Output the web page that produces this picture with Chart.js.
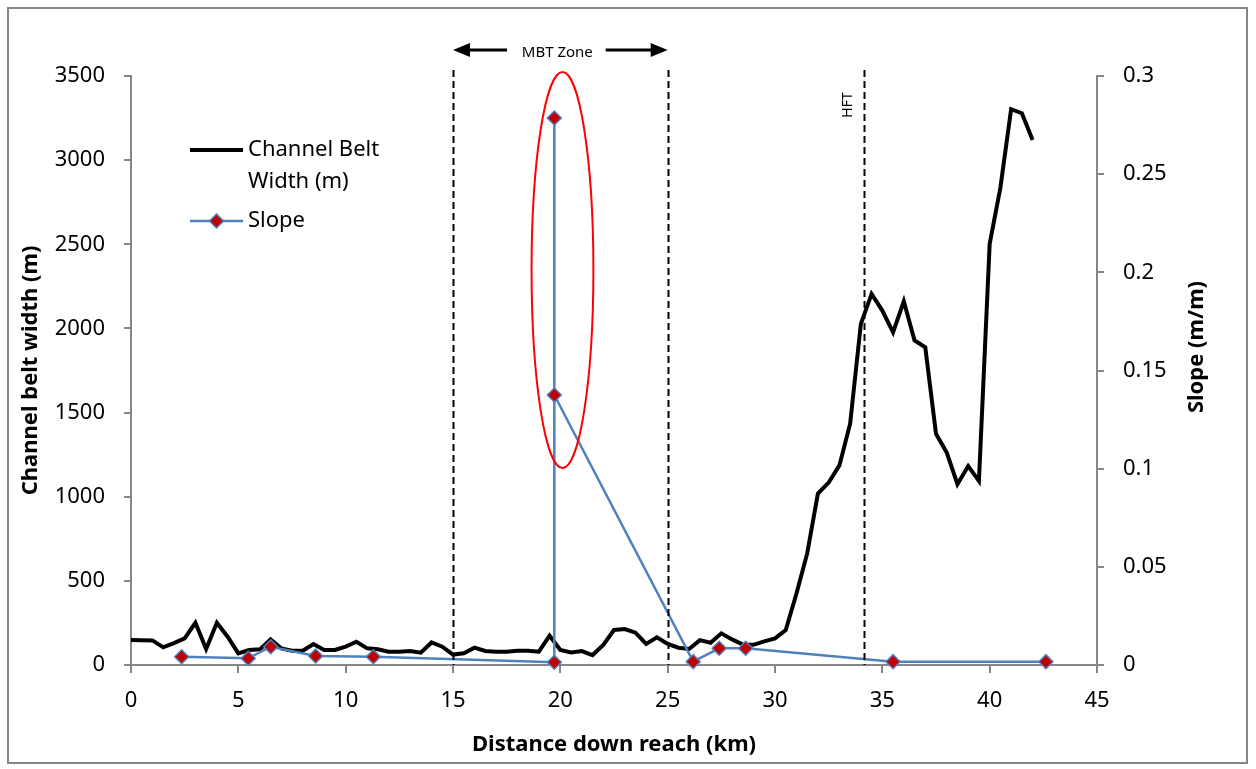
<!DOCTYPE html>
<html>
<head>
<meta charset="utf-8">
<script src="https://cdn.jsdelivr.net/npm/chart.js@4.4.1/dist/chart.umd.min.js"></script>
<style>
  body { margin: 0; background: #fff; }
  #wrap { width: 1256px; height: 769px; }
</style>
</head>
<body>
<div id="wrap"><canvas id="myChart" width="1256" height="769"></canvas></div>
<script>
// channel belt width, read at every 0.5 km
var distKm = [0, 0.5, 1, 1.5, 2, 2.5, 3, 3.5, 4, 4.5, 5, 5.5, 6, 6.5, 7, 7.5, 8, 8.5, 9, 9.5,
  10, 10.5, 11, 11.5, 12, 12.5, 13, 13.5, 14, 14.5, 15, 15.5, 16, 16.5, 17, 17.5, 18, 18.5, 19, 19.5,
  20, 20.5, 21, 21.5, 22, 22.5, 23, 23.5, 24, 24.5, 25, 25.5, 26, 26.5, 27, 27.5, 28, 28.5, 29, 29.5,
  30, 30.5, 31, 31.5, 32, 32.5, 33, 33.5, 34, 34.5, 35, 35.5, 36, 36.5, 37, 37.5, 38, 38.5, 39, 39.5,
  40, 40.5, 41, 41.5, 42];
var beltWidth = [148, 147, 146, 105, 130, 158, 251, 95, 251, 168, 69, 89, 93, 152, 99, 85, 85, 125, 89, 89,
  109, 138, 99, 93, 79, 79, 83, 73, 134, 109, 62, 70, 103, 83, 79, 79, 85, 85, 79, 174,
  89, 75, 83, 59, 119, 208, 214, 192, 125, 164, 125, 103, 95, 148, 132, 188, 152, 122, 120, 140,
  158, 208, 425, 663, 1019, 1084, 1186, 1434, 2027, 2205, 2106, 1977, 2161, 1928, 1888, 1374, 1262, 1074, 1182, 1094,
  2502, 2837, 3303, 3279, 3120];

// slope series
var slopeKm = [2.36, 5.46, 6.51, 8.6, 11.29, 19.72, 19.72, 19.72, 26.19, 27.4, 28.63, 35.5, 42.62];
var slopeVal = [0.0042, 0.0034, 0.0093, 0.0046, 0.0042, 0.0014, 0.2786, 0.1375, 0.0017, 0.0085, 0.0085, 0.0017, 0.0017];

// axes
var xTicks = { min: 0, max: 45, step: 5 };
var yTicks = { min: 0, max: 3500, step: 500 };
var y2Ticks = { min: 0, max: 0.3, step: 0.05 };

// annotations
var zoneLines = [15, 25];
var hftLine = 34.15;
var ellipseKm = [20.1, 1.44];   // centre, half width
var ellipseM = [2347, 1177];    // centre, half height

var beltPts = distKm.map(function(d, i) { return { x: d, y: beltWidth[i] }; });
var slopePts = slopeKm.map(function(d, i) { return { x: d, y: slopeVal[i] }; });

var FONT = '"Noto Sans", sans-serif';
var AXIS = '#868686';

var extras = {
  id: 'extras',
  beforeDraw: function(chart) {
    var c = chart.ctx;
    c.save();
    c.strokeStyle = AXIS;
    c.lineWidth = 2;
    c.strokeRect(8, 8, 1239, 755);
    c.restore();
  },
  afterDatasetsDraw: function(chart) {
    var c = chart.ctx, xs = chart.scales.x, ys = chart.scales.y;
    var bottom = chart.chartArea.bottom;
    c.save();
    // dashed lines
    c.strokeStyle = '#000';
    c.lineWidth = 2;
    c.setLineDash([7, 4]);
    zoneLines.concat([hftLine]).forEach(function(v) {
      var px = Math.round(xs.getPixelForValue(v)) + 0.5;
      c.beginPath(); c.moveTo(px, 70); c.lineTo(px, bottom); c.stroke();
    });
    c.setLineDash([]);

    // red ellipse
    var cx = xs.getPixelForValue(ellipseKm[0]);
    var rx = xs.getPixelForValue(ellipseKm[0] + ellipseKm[1]) - cx;
    var cy = ys.getPixelForValue(ellipseM[0]);
    var ry = cy - ys.getPixelForValue(ellipseM[0] + ellipseM[1]);
    c.strokeStyle = '#ff0000';
    c.lineWidth = 2;
    c.beginPath(); c.ellipse(cx, cy, rx, ry, 0, 0, Math.PI * 2); c.stroke();

    // MBT zone arrows
    var l = xs.getPixelForValue(zoneLines[0]), r = xs.getPixelForValue(zoneLines[1]);
    var ay = 50;
    c.strokeStyle = '#000'; c.fillStyle = '#000'; c.lineWidth = 3;
    c.beginPath(); c.moveTo(l + 14, ay); c.lineTo(l + 54, ay); c.stroke();
    c.beginPath(); c.moveTo(r - 62, ay); c.lineTo(r - 14, ay); c.stroke();
    c.beginPath(); c.moveTo(l, ay); c.lineTo(l + 17, ay - 7); c.lineTo(l + 17, ay + 7); c.closePath(); c.fill();
    c.beginPath(); c.moveTo(r, ay); c.lineTo(r - 17, ay - 7); c.lineTo(r - 17, ay + 7); c.closePath(); c.fill();
    c.font = '15px ' + FONT;
    c.textAlign = 'center'; c.textBaseline = 'middle';
    c.fillText('MBT Zone', (l + r) / 2 - 3, 53);

    // HFT label
    c.save();
    c.translate(xs.getPixelForValue(hftLine) - 16, 105);
    c.rotate(-Math.PI / 2);
    c.font = '14px ' + FONT;
    c.fillText('HFT', 0, 0);
    c.restore();

    // right axis title, reading upwards
    c.save();
    c.translate(1197, 347);
    c.rotate(-Math.PI / 2);
    c.font = 'bold 22px ' + FONT;
    c.fillText('Slope (m/m)', 0, 0);
    c.restore();

    // legend
    c.textAlign = 'left';
    c.font = '22px ' + FONT;
    c.strokeStyle = '#000'; c.lineWidth = 4;
    c.beginPath(); c.moveTo(190, 150); c.lineTo(243, 150); c.stroke();
    c.fillStyle = '#000';
    c.fillText('Channel Belt', 248, 150);
    c.fillText('Width (m)', 248, 182);
    c.strokeStyle = '#4F81BD'; c.lineWidth = 2.5;
    c.beginPath(); c.moveTo(190, 221); c.lineTo(243, 221); c.stroke();
    c.beginPath();
    c.moveTo(216.5, 214); c.lineTo(223.5, 221); c.lineTo(216.5, 228); c.lineTo(209.5, 221); c.closePath();
    c.fillStyle = '#C00000'; c.fill();
    c.lineWidth = 1.5; c.stroke();
    c.fillStyle = '#000';
    c.fillText('Slope', 248, 221);
    c.restore();
  }
};

new Chart('myChart', {
  type: 'line',
  data: {
    datasets: [{
      label: 'Slope',
      data: slopePts,
      yAxisID: 'y2',
      borderColor: '#4F81BD',
      borderWidth: 2.5,
      pointStyle: 'rectRot',
      pointRadius: 7,
      pointBorderWidth: 1.5,
      pointBackgroundColor: '#C00000',
      pointBorderColor: '#4F81BD',
      tension: 0,
      clip: false,
      order: 0
    }, {
      label: 'Channel Belt Width (m)',
      data: beltPts,
      yAxisID: 'y',
      borderColor: '#000',
      borderWidth: 4,
      pointRadius: 0,
      tension: 0,
      order: 1
    }]
  },
  options: {
    responsive: false,
    animation: false,
    layout: { padding: { top: 76, left: 0, right: 0, bottom: 0 } },
    plugins: { legend: { display: false }, tooltip: { enabled: false } },
    scales: {
      x: {
        type: 'linear', position: 'bottom',
        min: xTicks.min, max: xTicks.max,
        ticks: { stepSize: xTicks.step, color: '#000', font: { family: FONT, size: 22 }, padding: 15, maxRotation: 0, autoSkip: false },
        grid: { drawOnChartArea: false, drawTicks: true, tickLength: 8, color: AXIS, lineWidth: 2 },
        border: { color: AXIS, width: 2 },
        title: { display: true, text: 'Distance down reach (km)', color: '#000', font: { family: FONT, size: 22, weight: 'bold' }, padding: { top: 0, bottom: 11 } },
        afterFit: function(s) { s.height = 104; }
      },
      y: {
        position: 'left',
        min: yTicks.min, max: yTicks.max,
        ticks: { stepSize: yTicks.step, color: '#000', font: { family: FONT, size: 22 }, padding: 19, callback: function(v) { return String(v); } },
        grid: { drawOnChartArea: false, drawTicks: true, tickLength: 7, color: AXIS, lineWidth: 2 },
        border: { color: AXIS, width: 2 },
        title: { display: true, text: 'Channel belt width (m)', color: '#000', font: { family: FONT, size: 22, weight: 'bold' }, padding: { top: 18, bottom: 0 } },
        afterFit: function(s) { s.width = 131; }
      },
      y2: {
        position: 'right',
        min: y2Ticks.min, max: y2Ticks.max,
        ticks: { stepSize: y2Ticks.step, color: '#000', font: { family: FONT, size: 22 }, padding: 19, callback: function(v) { return String(+v.toFixed(2)); } },
        grid: { drawOnChartArea: false, drawTicks: true, tickLength: 7, color: AXIS, lineWidth: 2 },
        border: { color: AXIS, width: 2 },
        afterFit: function(s) { s.width = 159; }
      }
    }
  },
  plugins: [extras]
});
</script>
</body>
</html>
